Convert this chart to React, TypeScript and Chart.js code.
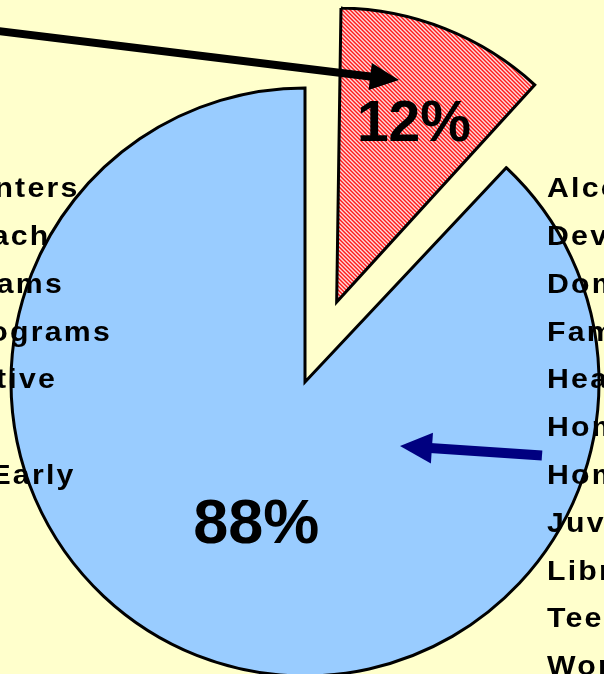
import React, { useEffect, useRef, useState } from "react";
import { Chart, registerables } from "chart.js";

Chart.register(...registerables);

// ---- data ----
const categories = ["Selected services", "All other services"];
const shares = [12, 88];
const percentLabels = ["12%", "88%"];

const leftLabels = [
  "Community Centers",
  "Outreach",
  "After School Programs",
  "Mentoring Programs",
  "Restorative",
  "",
  "Head Start/Early",
];

const rightLabels = [
  "Alcohol & Drug",
  "Developmental",
  "Domestic Violence",
  "Family Support",
  "Health",
  "Homeless",
  "Home Visiting",
  "Juvenile Justice",
  "Library",
  "Teen Pregnancy",
  "Workforce",
];

// ---- layout / style constants ----
const W = 604;
const H = 674;
const BG = "#FFFFCC";
const BLUE = "#99CCFF";
const FONT = '"Liberation Sans", Arial, Helvetica, sans-serif';
const LABEL_SIZE = 27;
const LABEL_SPACING = 2;
const LABEL_STRETCH = 1.12;
const PIE_RADIUS = 294;
const sliceOffsetPx = [344, 0];
const labelRadiusFactor = [0.67, 0.5];
const labelAngleFraction = [0.535, 0.493];
const percentFontSize = [57, 63];
const leftLabelEnds = [80, 51, 64, 112, 57, 0, 76];
const labelFirstBaseline = 198;
const labelStep = 47.8;
const rightLabelX = 547;

function makeHatch(): CanvasPattern | string {
  const c = document.createElement("canvas");
  c.width = 4;
  c.height = 4;
  const g = c.getContext("2d");
  if (!g) return "#f08080";
  g.fillStyle = "#FFDCDC";
  g.fillRect(0, 0, 4, 4);
  g.fillStyle = "#FF1A1A";
  for (let y = 0; y < 4; y++) {
    for (let x = 0; x < 4; x++) {
      const d = (((x - y) % 4) + 4) % 4;
      if (d === 0 || d === 1) g.fillRect(x, y, 1, 1);
    }
  }
  const p = g.createPattern(c, "repeat");
  return p || "#f08080";
}

function drawArrow(
  ctx: CanvasRenderingContext2D,
  x0: number,
  y0: number,
  x1: number,
  y1: number,
  thick: number,
  headLen: number,
  headHalf: number,
  color: string
) {
  const a = Math.atan2(y1 - y0, x1 - x0);
  const bx = x1 - Math.cos(a) * headLen;
  const by = y1 - Math.sin(a) * headLen;
  ctx.save();
  ctx.strokeStyle = color;
  ctx.fillStyle = color;
  ctx.lineWidth = thick;
  ctx.lineCap = "butt";
  ctx.beginPath();
  ctx.moveTo(x0, y0);
  ctx.lineTo(bx + Math.cos(a) * 2, by + Math.sin(a) * 2);
  ctx.stroke();
  ctx.beginPath();
  ctx.moveTo(x1, y1);
  ctx.lineTo(bx - Math.sin(a) * headHalf, by + Math.cos(a) * headHalf);
  ctx.lineTo(bx + Math.sin(a) * headHalf, by - Math.cos(a) * headHalf);
  ctx.closePath();
  ctx.fill();
  ctx.restore();
}

const arrowsPlugin = {
  id: "arrows",
  afterDraw(chart: any) {
    const ctx = chart.ctx as CanvasRenderingContext2D;
    drawArrow(ctx, -10, 30, 399, 80, 8, 29, 13.5, "#000000");
    drawArrow(ctx, 542, 455.5, 400, 446, 10, 32, 15.5, "#000080");
  },
};

// Chart.js enlarges an exploded arc's radius; keep every slice at the same radius.
const equalRadiusPlugin = {
  id: "equalRadius",
  afterDatasetUpdate(chart: any, args: any) {
    const meta = args.meta;
    meta.data.forEach((el: any, i: number) => {
      const off = (sliceOffsetPx[i] || 0) / 4;
      const fix = 1 - Math.sin(Math.min(Math.PI, el.circumference || 0));
      el.outerRadius = PIE_RADIUS - off * fix;
    });
  },
};

type Pos = { x: number; y: number };

export default function App() {
  const canvasRef = useRef<HTMLCanvasElement | null>(null);
  const [labelPos, setLabelPos] = useState<Pos[]>([]);

  useEffect(() => {
    document.body.style.margin = "0";
    document.body.style.background = BG;
    const canvas = canvasRef.current;
    if (!canvas) return;
    const chart = new Chart(canvas, {
      type: "pie",
      data: {
        labels: categories,
        datasets: [
          {
            data: shares,
            backgroundColor: [makeHatch() as any, BLUE],
            borderColor: "#000000",
            borderWidth: 3,
            borderJoinStyle: "miter" as any,
            offset: sliceOffsetPx,
          },
        ],
      },
      options: {
        animation: false,
        responsive: false,
        devicePixelRatio: 1,
        events: [],
        radius: PIE_RADIUS,
        layout: { padding: { left: 6, right: 0, top: 90, bottom: 0 } },
        plugins: {
          legend: { display: false },
          tooltip: { enabled: false },
        },
      } as any,
      plugins: [equalRadiusPlugin, arrowsPlugin],
    });

    const meta = chart.getDatasetMeta(0);
    const pos: Pos[] = meta.data.map((el: any, i: number) => {
      const { x, y, startAngle, endAngle } = el.getProps(["x", "y", "startAngle", "endAngle"], true);
      const mid = (startAngle + endAngle) / 2;
      const shift = sliceOffsetPx[i] / 4;
      const ang = startAngle + (endAngle - startAngle) * labelAngleFraction[i];
      const cx = x + Math.cos(mid) * shift;
      const cy = y + Math.sin(mid) * shift;
      const r = labelRadiusFactor[i] * PIE_RADIUS;
      return { x: cx + Math.cos(ang) * r, y: cy + Math.sin(ang) * r };
    });
    setLabelPos(pos);

    return () => chart.destroy();
  }, []);

  const labelTop = (i: number) => labelFirstBaseline + i * labelStep - 0.8465 * LABEL_SIZE;

  const textStyle: React.CSSProperties = {
    position: "absolute",
    fontFamily: FONT,
    fontWeight: "bold",
    fontSize: LABEL_SIZE,
    lineHeight: `${LABEL_SIZE}px`,
    letterSpacing: `${LABEL_SPACING}px`,
    whiteSpace: "nowrap",
    color: "#000",
  };

  return (
    <div
      style={{
        position: "absolute",
        left: 0,
        top: 0,
        width: W,
        height: H,
        overflow: "hidden",
        background: BG,
      }}
    >
      <canvas
        ref={canvasRef}
        width={W}
        height={H}
        style={{ position: "absolute", left: 0, top: 0, width: W, height: H, display: "block" }}
      />
      {leftLabels.map((t, i) =>
        t ? (
          <div
            key={"l" + i}
            style={{
              ...textStyle,
              right: W - leftLabelEnds[i],
              top: labelTop(i),
              textAlign: "right",
              transform: `scaleX(${LABEL_STRETCH})`,
              transformOrigin: "right center",
            }}
          >
            {t}
          </div>
        ) : null
      )}
      {rightLabels.map((t, i) => (
        <div
          key={"r" + i}
          style={{
            ...textStyle,
            left: rightLabelX,
            top: labelTop(i),
            transform: `scaleX(${LABEL_STRETCH})`,
            transformOrigin: "left center",
          }}
        >
          {t}
        </div>
      ))}
      {labelPos.map((p, i) => (
        <div
          key={"p" + i}
          style={{
            position: "absolute",
            left: p.x,
            top: p.y,
            transform: "translate(-50%, -50%)",
            fontFamily: FONT,
            fontWeight: "bold",
            fontSize: percentFontSize[i],
            lineHeight: `${percentFontSize[i]}px`,
            whiteSpace: "nowrap",
            color: "#000",
          }}
        >
          {percentLabels[i]}
        </div>
      ))}
    </div>
  );
}
